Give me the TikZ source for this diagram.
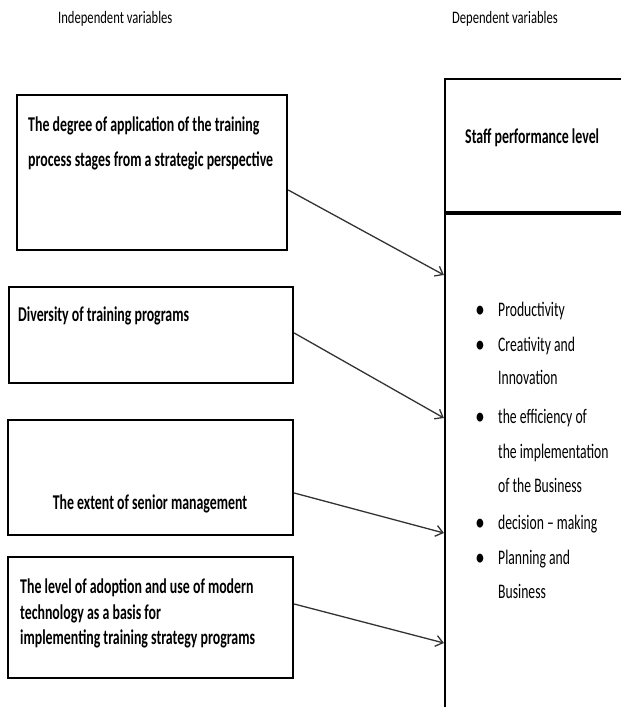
\documentclass[tikz,border=0pt]{standalone}
\usepackage{fontspec}
\setmainfont{Carlito}
\usetikzlibrary{arrows.meta}
\newcommand{\hsq}[1]{\scalebox{0.66}[1]{#1}}
\newcommand{\tsq}[1]{\scalebox{0.72}[1]{#1}}
\tikzset{
  box/.style={draw=black, line width=2.4pt, fill=white, inner sep=0pt},
  txt/.style={inner sep=0pt, anchor=base west, font=\bfseries\fontsize{21}{24}\selectfont},
  ltxt/.style={inner sep=0pt, anchor=base west, font=\fontsize{20.7}{24}\selectfont},
  ttl/.style={inner sep=0pt, anchor=base west, font=\fontsize{17.5}{21}\selectfont},
  bul/.style={inner sep=0pt, anchor=base, font=\bfseries\fontsize{21}{24}\selectfont},
  arr/.style={draw=black!80, line width=1.3pt, -{Straight Barb[length=7pt,width=11pt]}}
}
\newcommand{\bl}{\scalebox{0.75}[1]{\textbullet}}
\begin{document}
\begin{tikzpicture}[x=1pt,y=-1pt]
\useasboundingbox[fill=white] (0,0) rectangle (621,707);
% titles
\node[ttl] (t1) at (58,23) {\tsq{Independent variables}};
\node[ttl] (t2) at (452,23) {\tsq{Dependent variables}};
% left boxes
\node[box, minimum width=270pt, minimum height=155pt] (b1) at (152,172.5) {};
\node[box, minimum width=284pt, minimum height=96pt] (b2) at (151,335) {};
\node[box, minimum width=285pt, minimum height=115pt] (b3) at (150.5,477.5) {};
\node[box, minimum width=285pt, minimum height=121pt] (b4) at (150.5,617.5) {};
% right box
\begin{scope}
\clip (0,0) rectangle (621,707);
\node[draw=black, line width=2.2pt, minimum width=215pt, minimum height=681pt, inner sep=0pt] (rb) at (552.5,419.5) {};
\draw[line width=3.5pt] (rb.west |- 0,213) -- (rb.east |- 0,213);
\end{scope}
% texts in left boxes
\node[txt] (b1l1) at (28,131) {\hsq{The degree of application of the training}};
\node[txt] (b1l2) at (28,166) {\hsq{process stages from a strategic perspective}};
\node[txt] (b2l1) at (18,321) {\hsq{Diversity of training programs}};
\node[txt, anchor=base] (b3l1) at (150,509) {\hsq{The extent of senior management}};
\node[txt] (b4l1) at (20,593) {\hsq{The level of adoption and use of modern}};
\node[txt] (b4l2) at (20,619) {\hsq{technology as a basis for}};
\node[txt] (b4l3) at (20,644) {\hsq{implementing training strategy programs}};
% right box texts
\node[txt] (rt) at (465,143) {\hsq{Staff performance level}};
\node[bul] (u1) at (480,316) {\bl};
\node[ltxt] (l1) at (498,316) {\hsq{Productivity}};
\node[bul] (u2) at (480,351) {\bl};
\node[ltxt] (l2) at (498,351) {\hsq{Creativity and}};
\node[ltxt] (l3) at (498,384) {\hsq{Innovation}};
\node[bul] (u3) at (480,423) {\bl};
\node[ltxt] (l4) at (498,423) {\hsq{the efficiency of}};
\node[ltxt] (l5) at (498,458) {\hsq{the implementation}};
\node[ltxt] (l6) at (498,492) {\hsq{of the Business}};
\node[bul] (u4) at (480,529) {\bl};
\node[ltxt] (l7) at (498,529) {\hsq{decision -- making}};
\node[bul] (u5) at (480,564) {\bl};
\node[ltxt] (l8) at (498,564) {\hsq{Planning and}};
\node[ltxt] (l9) at (498,598) {\hsq{Business}};
% arrows
\draw[arr] ([yshift=-17.5pt]b1.east) -- (rb.west |- 0,275);
\draw[arr] ([yshift=2pt]b2.east) -- (rb.west |- 0,418);
\draw[arr] ([yshift=-15.5pt]b3.east) -- (rb.west |- 0,533);
\draw[arr] ([yshift=13.5pt]b4.east) -- (rb.west |- 0,643);
\end{tikzpicture}
\end{document}
